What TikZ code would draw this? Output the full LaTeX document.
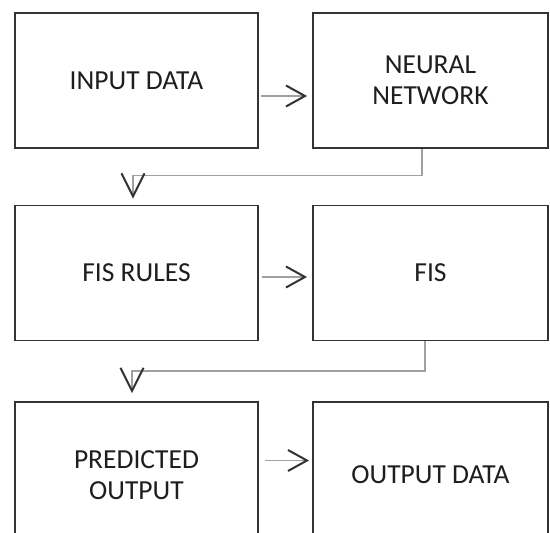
\documentclass[tikz,border=0pt]{standalone}
\usepackage{fontspec}
\setmainfont{Carlito}
\usetikzlibrary{arrows.meta,calc}
\definecolor{boxline}{HTML}{333333}
\definecolor{connline}{HTML}{A0A0A0}
\definecolor{tipcol}{HTML}{333333}
\definecolor{txtcol}{HTML}{1E1E1E}
\begin{document}
\begin{tikzpicture}[x=1pt,y=-1pt,
  box/.style={draw=boxline, line width=1.9pt, minimum width=243pt, minimum height=135pt,
    inner sep=0pt, align=center, text=txtcol, font=\fontsize{27.5}{31}\selectfont},
  rbox/.style={box, minimum width=235pt},
  conn/.style={draw=connline, line width=1.7pt,
    -{Straight Barb[length=19pt,width=21pt,line width=2pt,color=tipcol]}},
  vconn/.style={draw=connline, line width=1.7pt,
    -{Straight Barb[length=23pt,width=23pt,line width=2pt,color=tipcol]}}]
\path[use as bounding box] (0,0) rectangle (550,533);
\clip (0,0) rectangle (550,533);
\fill[white] (0,0) rectangle (550,533);
% row 1
\node[box]  (inp) at (136.5,80.5) {INPUT DATA};
\node[rbox] (nn)  at (430.5,80.5) {NEURAL\\NETWORK};
% row 2
\node[box]  (rules) at (136.5,273) {FIS RULES};
\node[rbox] (fis)   at (430.5,273) {FIS};
% row 3 (cut off by the picture edge)
\node[box, minimum height=146pt]  (pred) at (136.5,475) {PREDICTED\\OUTPUT};
\node[rbox, minimum height=146pt] (out)  at (430.5,475) {OUTPUT DATA};
% horizontal arrows
\draw[conn] ($(inp.east)+(2,15.5)$) -- ($(nn.west)+(-5,15.5)$);
\draw[conn] ($(rules.east)+(3,4)$) -- ($(fis.west)+(-5,4)$);
\draw[conn] ($(pred.east)+(6,-14.5)$) -- ($(out.west)+(-3,-14.5)$);
% elbow connectors
\coordinate (t1) at ($(rules.north)+(-3.5,-6)$);
\draw[vconn] ($(nn.south)+(-8.5,0)$) |- ($(t1)+(0,-23)$) -- (t1);
\coordinate (t2) at ($(pred.north)+(-4.5,-8)$);
\draw[vconn] ($(fis.south)+(-5.5,0)$) |- ($(t2)+(0,-22)$) -- (t2);
\end{tikzpicture}
\end{document}
